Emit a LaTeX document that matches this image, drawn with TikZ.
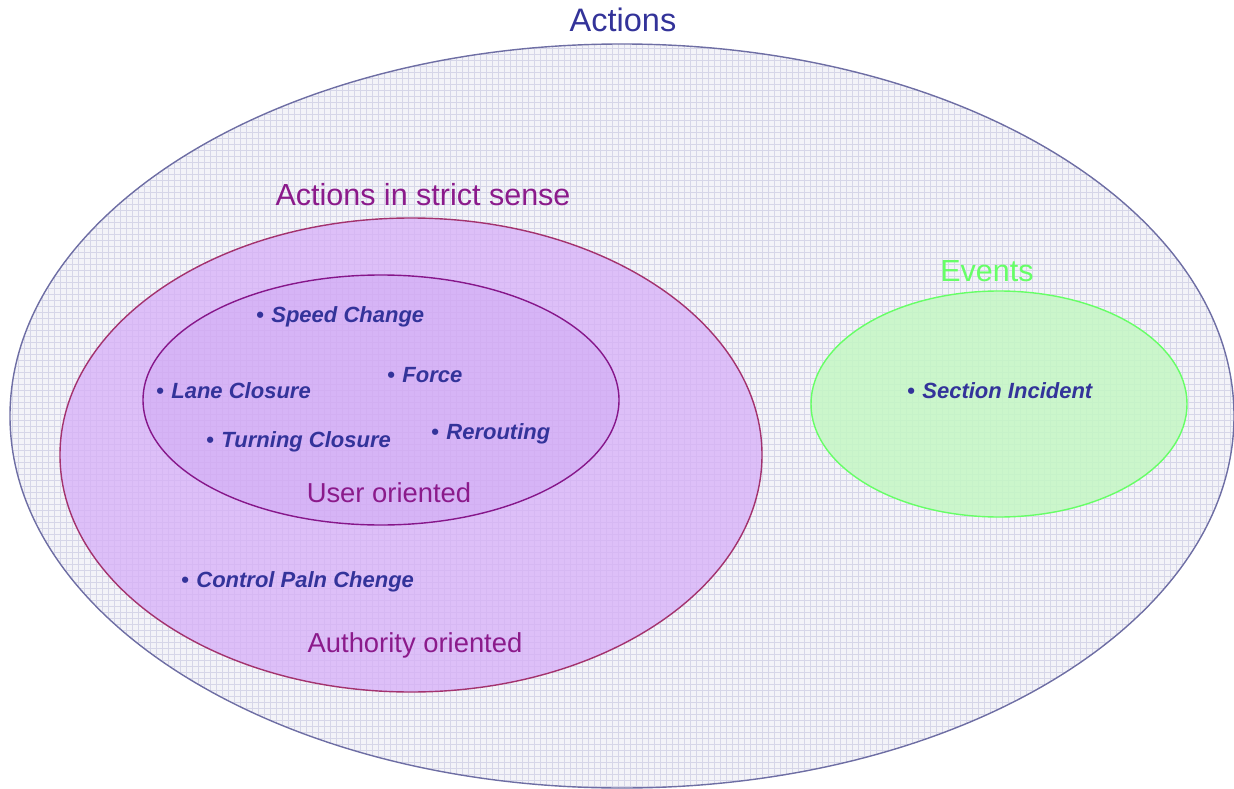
\documentclass[tikz,border=0pt]{standalone}
\usepackage{fontspec}
\setmainfont{Liberation Sans}
\definecolor{outerline}{HTML}{6E6EA4}
\definecolor{outerfill}{HTML}{F3F3F8}
\definecolor{gridcol}{HTML}{D6D6E8}
\definecolor{strictline}{HTML}{A3326E}
\definecolor{strictfill}{HTML}{D6AEF8}
\definecolor{userline}{HTML}{86168A}
\definecolor{userfill}{HTML}{C99CF2}
\definecolor{eventline}{HTML}{66FF66}
\definecolor{eventfill}{HTML}{C4F7C4}
\definecolor{itemcol}{HTML}{33339A}
\definecolor{titlecol}{HTML}{333399}
\definecolor{purplecol}{HTML}{8B1A8B}
\tikzset{
  bigtitle/.style={anchor=base, inner sep=0pt, font=\fontsize{32.5}{38}\selectfont},
  settitle/.style={anchor=base, inner sep=0pt, font=\fontsize{30.5}{35}\selectfont},
  subtitle/.style={anchor=base, inner sep=0pt, text=purplecol, font=\fontsize{27.4}{32}\selectfont},
  item/.style={anchor=base west, inner sep=0pt, text=itemcol, font=\fontsize{22}{26}\selectfont\bfseries\itshape},
}
\begin{document}
\begin{tikzpicture}[x=1pt,y=-1pt]
\useasboundingbox (0,0) rectangle (1234,789);
% outer ellipse with grid texture
\fill[outerfill] (622,416) ellipse [x radius=612, y radius=372];
\begin{scope}
  \clip (622,416) ellipse [x radius=612, y radius=372];
  \foreach \i in {0,6,...,1236} { \draw[gridcol, line width=0.6pt] (\i,40) -- (\i,790); }
  \foreach \j in {42,48,...,790} { \draw[gridcol, line width=0.6pt] (8,\j) -- (1236,\j); }
\end{scope}
\draw[outerline, line width=1.4pt] (622,416) ellipse [x radius=612, y radius=372];
% strict sense
\fill[strictfill, fill opacity=0.75] (411,455) ellipse [x radius=351, y radius=237];
\draw[strictline, line width=1.4pt] (411,455) ellipse [x radius=351, y radius=237];
% user oriented
\fill[userfill, fill opacity=0.3] (381,400) ellipse [x radius=238, y radius=125];
\draw[userline, line width=1.4pt] (381,400) ellipse [x radius=238, y radius=125];
% events
\fill[eventfill, fill opacity=0.85] (999,404) ellipse [x radius=188, y radius=113];
\draw[eventline, line width=1.4pt] (999,404) ellipse [x radius=188, y radius=113];
% titles
\node[bigtitle, text=titlecol] (tactions) at (623,32) {Actions};
\node[settitle, text=purplecol] (tstrict) at (423,205) {Actions in strict sense};
\node[settitle, text=eventline] (tevents) at (987,281) {Events};
\node[subtitle] (tuser) at (389,502) {User oriented};
\node[subtitle] (tauth) at (415,652) {Authority oriented};
% items
\node[item] (speed) at (256,322) {\textbullet\hspace{7.5pt}Speed Change};
\node[item] (force) at (387,382) {\textbullet\hspace{7.5pt}Force};
\node[item] (lane) at (156,398) {\textbullet\hspace{7.5pt}Lane Closure};
\node[item] (turn) at (206,447) {\textbullet\hspace{7.5pt}Turning Closure};
\node[item] (rerout) at (431,439) {\textbullet\hspace{7.5pt}Rerouting};
\node[item] (section) at (907,398) {\textbullet\hspace{7.5pt}Section Incident};
\node[item] (control) at (181,587) {\textbullet\hspace{7.5pt}Control Paln Chenge};
\end{tikzpicture}
\end{document}
